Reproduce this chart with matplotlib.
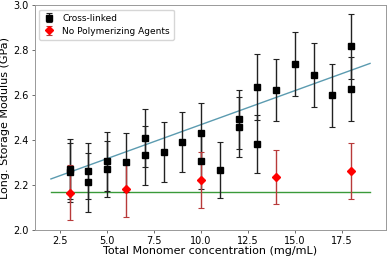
import matplotlib
matplotlib.use("Agg")
import matplotlib.pyplot as plt
import numpy as np

# Cross-linked samples
x_cl = [3, 3, 4, 4, 5, 5, 6, 7, 7, 8, 9, 10, 10, 11, 12, 12, 13, 13, 14, 15, 16, 17, 18, 18]
y_cl = [2.271, 2.256, 2.262, 2.212, 2.305, 2.270, 2.301, 2.410, 2.332, 2.348, 2.390, 2.431, 2.307,
        2.267, 2.492, 2.458, 2.636, 2.382, 2.622, 2.739, 2.689, 2.599, 2.816, 2.628]
e_cl = [0.132, 0.130, 0.125, 0.130, 0.132, 0.125, 0.130, 0.130, 0.130, 0.133, 0.133, 0.135, 0.125,
        0.123, 0.130, 0.135, 0.145, 0.130, 0.138, 0.142, 0.141, 0.140, 0.144, 0.142]

# No polymerizing agents
x_np = [3, 6, 10, 14, 18]
y_np = [2.166, 2.182, 2.222, 2.236, 2.262]
e_np = [0.122, 0.122, 0.123, 0.121, 0.125]

# Fit lines
fit_x = [2, 19]
fit_slope = 0.0302
fit_intercept = 2.1666
baseline = 2.168

fig = plt.figure(figsize=(3.9, 2.57), dpi=100)
ax = fig.add_axes([0.0897, 0.105, 0.9, 0.8755])

fx = np.array(fit_x, dtype=float)
ax.plot(fx, fit_intercept + fit_slope * fx, color="#5b9bb0", lw=1.0)
ax.plot(fx, [baseline, baseline], color="#3a9a3a", lw=1.0)

ax.errorbar(x_cl, y_cl, yerr=e_cl, fmt="s", color="black", ecolor="#222222",
            ms=4.8, capsize=2.2, elinewidth=1.0, capthick=0.8, label="Cross-linked")
ax.errorbar(x_np, y_np, yerr=e_np, fmt="D", color="red", ecolor="#b83a3a",
            ms=3.8, capsize=2.2, elinewidth=1.0, capthick=0.8, label="No Polymerizing Agents")

ax.set_ylim(2.0, 3.0)
ax.set_yticks([2.0, 2.2, 2.4, 2.6, 2.8, 3.0])
ax.set_xticks([2.5, 5.0, 7.5, 10.0, 12.5, 15.0, 17.5])
ax.tick_params(labelsize=7, length=2.5, width=0.6, pad=2, color="#555555")
for s in ax.spines.values():
    s.set_linewidth(0.7)
    s.set_color("#999999")

ax.set_xlabel("Total Monomer concentration (mg/mL)", fontsize=8, labelpad=0)
ax.set_ylabel("Long. Storage Modulus (GPa)", fontsize=8, labelpad=2)
ax.legend(loc="upper left", fontsize=6.5, frameon=True, handlelength=1.2,
          borderpad=0.5, labelspacing=0.4, framealpha=0.8)

fig.savefig("out.png", dpi=100)
